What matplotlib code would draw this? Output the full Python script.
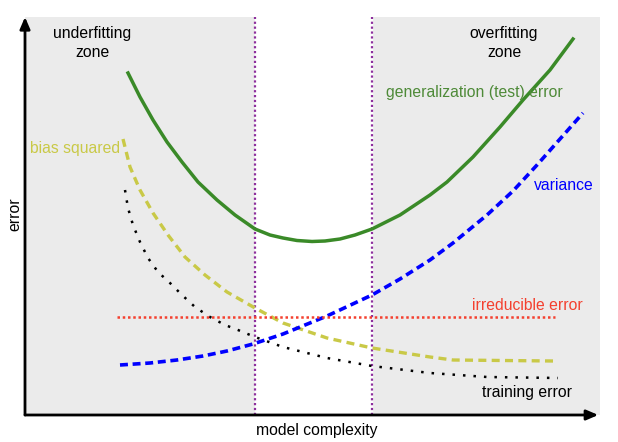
import numpy as np
import matplotlib
matplotlib.use("Agg")
import matplotlib.pyplot as plt

plt.rcParams['font.family'] = ['Liberation Sans', 'DejaVu Sans']

# curves (complexity, error)
test_x = [103, 115, 128, 142, 157, 173, 192, 210, 230, 245, 258, 272, 287, 300, 315, 330, 347, 375, 405, 422, 448, 475, 498, 525, 548]
test_y = [342, 318, 295, 273, 253, 233, 215, 200, 186, 180, 177, 174.5, 173.5, 174, 176, 180, 186, 200, 220, 233, 258, 288, 315, 345, 376]

bias_x = [98, 105, 115, 128, 143, 160, 180, 202, 230, 258, 302, 347, 405, 428, 528]
bias_y = [276, 248, 225, 202, 180, 158, 140, 123, 107, 92, 77, 67, 58, 55, 54]

train_x = [100, 103, 108, 115, 123, 133, 145, 157, 170, 185, 200, 213, 230, 258, 302, 347, 405, 462, 533]
train_y = [225, 207, 190, 173, 157, 143, 132, 120, 108, 98, 90, 85, 78, 68, 57, 49, 42, 38, 37]

var_x = [95, 125, 152, 178, 202, 228, 258, 302, 347, 375, 405, 428, 462, 488, 512, 535, 558]
var_y = [50, 52, 55, 59, 64, 71, 81, 99, 120, 136, 155, 172, 200, 224, 250, 276, 302]

irr_x = [92, 530]
irr_y = [98, 98]

zone_bounds = [229.5, 347]

fig = plt.figure(figsize=(6.18, 4.42), dpi=100)
ax = fig.add_axes([25 / 618, 27 / 442, 575 / 618, 398 / 442])
ax.set_xlim(0, 575)
ax.set_ylim(0, 398)
ax.set_facecolor('#ebebeb')
for s in ax.spines.values():
    s.set_visible(False)
ax.set_xticks([])
ax.set_yticks([])

# white "sweet spot" region
ax.axvspan(zone_bounds[0], zone_bounds[1], color='white', zorder=0)
for b in zone_bounds:
    ax.axvline(b, color='#8d2f9d', lw=1.6, ls=(0, (1, 1.2)), zorder=1)

ax.plot(test_x, test_y, color='#3a8a28', lw=2.5, solid_joinstyle='round', zorder=3)
ax.plot(bias_x, bias_y, color='#c9c947', lw=2.4, ls=(0, (2.4, 1.6)), zorder=3)
ax.plot(train_x, train_y, color='black', lw=1.8, ls=(0, (1, 3.2)), zorder=3)
ax.plot(var_x, var_y, color='blue', lw=2.6, ls=(0, (2.2, 1.3)), zorder=3)
ax.plot(irr_x, irr_y, color='#f4402f', lw=1.8, ls=(0, (1, 1.1)), zorder=3)

fs = 11.3
ax.text(67, 372, 'underfitting\nzone', ha='center', va='center', fontsize=fs, linespacing=1.3)
ax.text(479, 372, 'overfitting\nzone', ha='center', va='center', fontsize=fs, linespacing=1.3)
ax.text(538, 322, 'generalization (test) error', ha='right', va='center', fontsize=fs, color='#4e8a38')
ax.text(569, 229, 'variance', ha='right', va='center', fontsize=fs, color='blue')
ax.text(95, 267, 'bias squared', ha='right', va='center', fontsize=fs, color='#c9c947')
ax.text(558, 109, 'irreducible error', ha='right', va='center', fontsize=fs, color='#f4402f')
ax.text(547, 23, 'training error', ha='right', va='center', fontsize=fs, color='black')

ax.text(0.508, -0.038, 'model complexity', transform=ax.transAxes, ha='center', va='center', fontsize=fs)
ax.text(-0.018, 0.505, 'error', transform=ax.transAxes, ha='center', va='center', rotation=90, fontsize=fs)

# axes with arrow heads
arrow = dict(arrowstyle='-|>,head_length=0.7,head_width=0.3', color='black', lw=2, shrinkA=0, shrinkB=0)
ax.annotate('', xy=(0, 1.0), xytext=(0, 0), xycoords='axes fraction', arrowprops=arrow, annotation_clip=False)
ax.annotate('', xy=(0.997, 0), xytext=(0, 0), xycoords='axes fraction', arrowprops=arrow, annotation_clip=False)

fig.savefig('out.png', dpi=100)
